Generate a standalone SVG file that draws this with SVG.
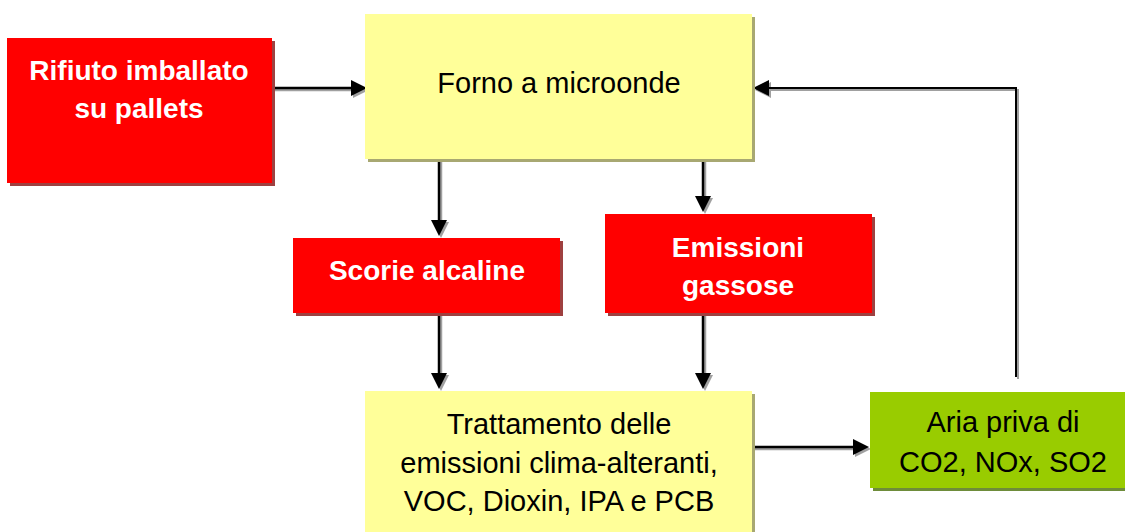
<svg xmlns="http://www.w3.org/2000/svg" width="1125" height="532" viewBox="0 0 1125 532">
<defs>
<style>
.red{fill:#ff0000}
.redsh{fill:#9e4040}
.yel{fill:#ffff99}
.yelsh{fill:#a8a872}
.grn{fill:#99cc00}
.grnsh{fill:#6e8c3a}
.tw{font-family:"Liberation Sans",Arial,sans-serif;font-weight:bold;font-size:28px;fill:#ffffff;text-anchor:middle}
.tb{font-family:"Liberation Sans",Arial,sans-serif;font-size:29px;fill:#000000;text-anchor:middle}
.ln{stroke:#000000;stroke-width:2.5;fill:none;marker-end:url(#ah)}
.sh{stroke:#a0a0a0;stroke-width:2.5;fill:none;marker-end:url(#ahs)}
.thin{stroke-width:2}
</style>
<marker id="ah" markerUnits="userSpaceOnUse" markerWidth="18" markerHeight="18" refX="3" refY="8" orient="auto">
<path d="M0,0 L16,8 L0,16 z" fill="#000000"/>
</marker>
<marker id="ahs" markerUnits="userSpaceOnUse" markerWidth="18" markerHeight="18" refX="3" refY="8" orient="auto">
<path d="M0,0 L16,8 L0,16 z" fill="#a0a0a0"/>
</marker>
</defs>
<rect width="1125" height="532" fill="#ffffff"/>

<g id="connectors">
<g transform="translate(2,2)">
<path class="sh" d="M272,88 H354"/>
<path class="sh" d="M439,159 V223"/>
<path class="sh" d="M703,159 V199"/>
<path class="sh" d="M439,313 V376"/>
<path class="sh" d="M703,313 V376"/>
<path class="sh" d="M752,447 H856"/>
<path class="sh thin" d="M1016,377 V88 H766"/>
</g>
<path class="ln" d="M272,88 H354"/>
<path class="ln" d="M439,159 V223"/>
<path class="ln" d="M703,159 V199"/>
<path class="ln" d="M439,313 V376"/>
<path class="ln" d="M703,313 V376"/>
<path class="ln" d="M752,447 H856"/>
<path class="ln thin" d="M1016,377 V88 H766"/>
</g>

<g id="rifiuto">
<rect class="redsh" x="10" y="41" width="265" height="145"/>
<rect class="red" x="7" y="38" width="265" height="145"/>
<text class="tw" x="139" y="80">Rifiuto imballato</text>
<text class="tw" x="139" y="118">su pallets</text>
</g>

<g id="forno">
<rect class="yelsh" x="368" y="17" width="387" height="145"/>
<rect class="yel" x="365" y="14" width="387" height="145"/>
<text class="tb" x="559" y="93">Forno a microonde</text>
</g>

<g id="scorie">
<rect class="redsh" x="296" y="241" width="267" height="75"/>
<rect class="red" x="293" y="238" width="267" height="75"/>
<text class="tw" x="427" y="280">Scorie alcaline</text>
</g>

<g id="emissioni">
<rect class="redsh" x="608" y="217" width="267" height="99"/>
<rect class="red" x="605" y="214" width="267" height="99"/>
<text class="tw" x="738" y="257">Emissioni</text>
<text class="tw" x="738" y="295">gassose</text>
</g>

<g id="trattamento">
<rect class="yelsh" x="368" y="394" width="387" height="150"/>
<rect class="yel" x="365" y="391" width="387" height="150"/>
<text class="tb" x="559" y="434">Trattamento delle</text>
<text class="tb" x="559" y="473">emissioni clima-alteranti,</text>
<text class="tb" x="559" y="511">VOC, Dioxin, IPA e PCB</text>
</g>

<g id="aria">
<rect class="grnsh" x="873" y="395" width="260" height="96"/>
<rect class="grn" x="870" y="392" width="260" height="96"/>
<text class="tb" x="1003" y="432">Aria priva di</text>
<text class="tb" x="1003" y="472">CO2, NOx, SO2</text>
</g>
</svg>
